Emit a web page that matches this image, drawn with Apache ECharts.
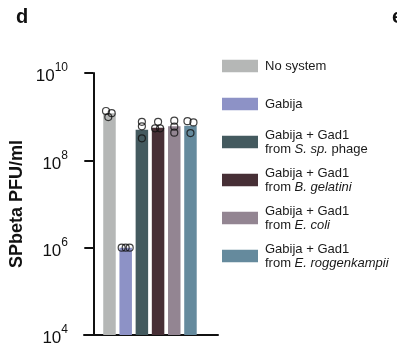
<!DOCTYPE html>
<html>
<head>
<meta charset="utf-8">
<script src="https://cdn.jsdelivr.net/npm/echarts@6/dist/echarts.min.js"></script>
<style>
  html, body { margin: 0; padding: 0; background: #fff; }
  #chart { width: 397px; height: 350px; }
</style>
</head>
<body>
<div id="chart"></div>
<script>
// Phage titres (PFU/ml) for each defence system configuration
const systems = [
  'No system',
  'Gabija',
  'Gabija + Gad1 from S. sp. phage',
  'Gabija + Gad1 from B. gelatini',
  'Gabija + Gad1 from E. coli',
  'Gabija + Gad1 from E. roggenkampii'
];
// legend labels (rich text, species names in italics)
const legendLabels = [
  'No system',
  'Gabija',
  'Gabija + Gad1\nfrom {i|S. sp.} phage',
  'Gabija + Gad1\nfrom {i|B. gelatini}',
  'Gabija + Gad1\nfrom {i|E. coli}',
  'Gabija + Gad1\nfrom {i|E. roggenkampii}'
];
const meanTitre = [1.2e9, 1.0e6, 5.0e8, 5.6e8, 6.0e8, 6.2e8];
const replicates = [
  [1.35e9, 1.2e9, 9.8e8],
  [1.0e6, 1.0e6, 1.0e6],
  [7.6e8, 6.0e8, 3.2e8],
  [7.6e8, 5.4e8, 5.4e8],
  [8.1e8, 5.9e8, 4.3e8],
  [7.9e8, 7.4e8, 4.2e8]
];
const yTickExponents = [4, 6, 8, 10];

const colors = ['#b5b7b6', '#8d92c6', '#445a5f', '#472f36', '#938592', '#658a9d'];
// horizontal spread of the replicate dots (px)
const dotJitter = [
  [-3.5, 2.2, -1.2],
  [-4, 0, 4],
  [0, 0, 0],
  [0, -3, 2],
  [0, 0, 0],
  [-3, 3, 0]
];

const FONT = 'Liberation Sans, Arial, Helvetica, sans-serif';

const barSeries = systems.map((name, i) => ({
  name: name,
  type: 'bar',
  barWidth: 12.5,
  barGap: '-100%',
  itemStyle: { color: colors[i] },
  data: [[i + 1, meanTitre[i]]],
  z: 2
}));

const dotData = [];
replicates.forEach((reps, i) => {
  reps.forEach((v, k) => {
    dotData.push({ value: [i + 1, v], symbolOffset: [dotJitter[i][k], 0] });
  });
});

const legendCenter0 = 66, legendStep = 38, lineH = 14;
const legends = systems.map((name, i) => {
  const lines = legendLabels[i].split('\n').length;
  return {
    data: [name],
    orient: 'vertical',
    left: 222,
    top: legendCenter0 + i * legendStep - lines * lineH / 2,
    padding: 0,
    icon: 'rect',
    itemWidth: 36,
    itemHeight: 12.5,
    selectedMode: false,
    formatter: () => legendLabels[i],
    textStyle: {
      fontFamily: FONT,
      fontSize: 13,
      lineHeight: lineH,
      color: '#1a1a1a',
      padding: [0, 0, 0, 2],
      rich: {
        i: { fontFamily: FONT, fontSize: 13, lineHeight: lineH, fontStyle: 'italic', color: '#1a1a1a' }
      }
    }
  };
});

const chart = echarts.init(document.getElementById('chart'), null, { renderer: 'canvas' });
chart.setOption({
  animation: false,
  backgroundColor: '#ffffff',
  title: [
    { text: 'd', left: 11, top: 2, textStyle: { fontFamily: FONT, fontSize: 20, fontWeight: 'bold', color: '#111' } },
    { text: 'e', left: 387, top: 2, textStyle: { fontFamily: FONT, fontSize: 20, fontWeight: 'bold', color: '#111' } }
  ],
  legend: legends,
  grid: { left: 84, top: 73, width: 134, height: 262, containLabel: false, outerBoundsMode: 'none' },
  xAxis: {
    type: 'value',
    min: -0.574,
    max: 7.7,
    axisLine: { show: true, onZero: false, lineStyle: { color: '#111', width: 2 } },
    axisTick: { show: false },
    axisLabel: { show: false },
    splitLine: { show: false }
  },
  yAxis: {
    type: 'log',
    logBase: 10,
    min: Math.pow(10, yTickExponents[0]),
    max: Math.pow(10, yTickExponents[yTickExponents.length - 1]),
    interval: 2,
    name: 'SPbeta PFU/ml',
    nameLocation: 'middle',
    nameGap: 58,
    nameTextStyle: { fontFamily: FONT, fontSize: 18, fontWeight: 'bold', color: '#111' },
    axisLine: { show: true, lineStyle: { color: '#111', width: 2 } },
    axisTick: { show: true, length: 9, lineStyle: { color: '#111', width: 2 } },
    splitLine: { show: false },
    minorTick: { show: false },
    axisLabel: {
      margin: 16,
      lineHeight: 24,
      formatter: (v) => {
        const e = Math.round(Math.log10(v));
        return '{b|10}{s|' + e + '}';
      },
      rich: {
        b: { fontFamily: FONT, fontSize: 17, lineHeight: 24, verticalAlign: 'bottom', color: '#111' },
        s: { fontFamily: FONT, fontSize: 12, verticalAlign: 'top', padding: [1, 0, 0, 0], color: '#111' }
      }
    }
  },
  series: barSeries.concat([{
    name: 'replicates',
    type: 'scatter',
    symbol: 'circle',
    symbolSize: 7,
    itemStyle: { color: 'rgba(0,0,0,0)', borderColor: '#111', borderWidth: 1.2 },
    data: dotData,
    z: 5
  }])
});
</script>
</body>
</html>
